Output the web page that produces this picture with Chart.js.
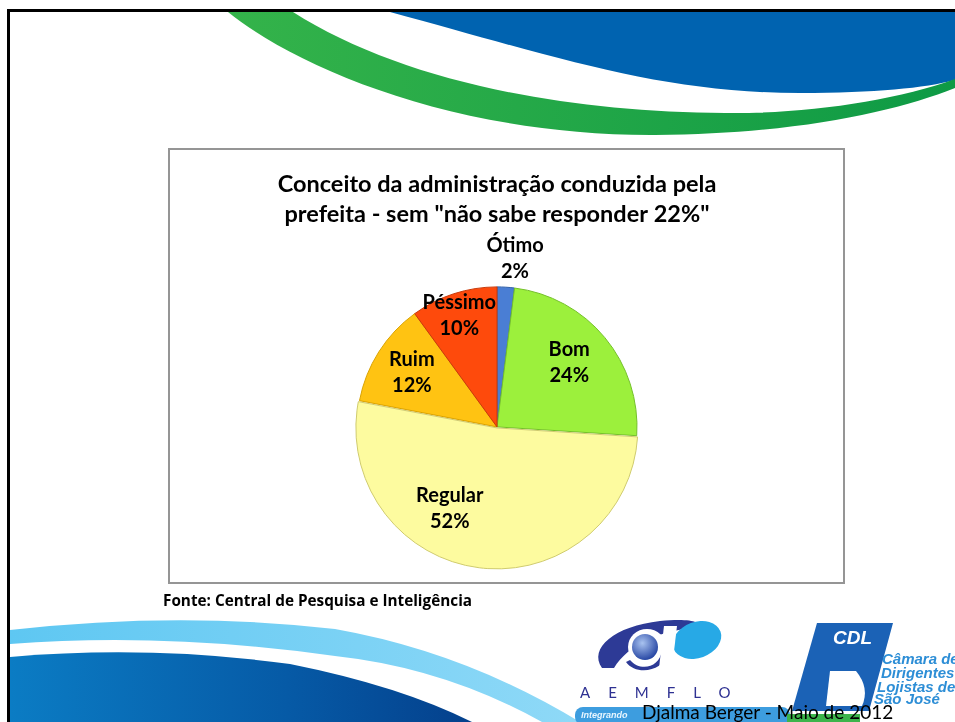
<!DOCTYPE html>
<html>
<head>
<meta charset="utf-8">
<script src="https://cdn.jsdelivr.net/npm/chart.js@4.4.1/dist/chart.umd.min.js"></script>
<style>
html, body { margin: 0; padding: 0; background: #fff; }
body { width: 955px; height: 722px; position: relative; overflow: hidden; font-family: Lato, "Open Sans", sans-serif; }
svg { position: absolute; left: 0; top: 0; }
#box { position: absolute; left: 168px; top: 148px; width: 673px; height: 432px; border: 2px solid #959595; background: #fff; }
#pie { position: absolute; left: 170px; top: 150px; }
</style>
</head>
<body>
<svg width="955" height="722">
	<defs>
		<linearGradient id="gTop" x1="0" x2="1" y1="0" y2="0">
			<stop offset="0" stop-color="#34b34a"/>
			<stop offset="1" stop-color="#0e9a45"/>
		</linearGradient>
		<linearGradient id="gLight" x1="0" x2="1" y1="0" y2="0">
			<stop offset="0" stop-color="#5ec7f2"/>
			<stop offset="1" stop-color="#8fd9f7"/>
		</linearGradient>
		<linearGradient id="gDark" x1="0" x2="1" y1="0" y2="0">
			<stop offset="0" stop-color="#0b7cc4"/>
			<stop offset="0.6" stop-color="#065aa6"/>
			<stop offset="1" stop-color="#04408c"/>
		</linearGradient>
	</defs>
	<!-- top swooshes -->
	<path d="M390,12 C560,58 660,93 800,93 C875,93 925,88 955,80 L955,12 Z" fill="#0063b0"/>
	<path d="M228,12 C300,70 460,136 655,135 C795,134 895,112 955,88 L955,79 C895,101 805,114 725,113 C560,112 400,80 293,12 Z" fill="url(#gTop)"/>
	<!-- bottom swooshes -->
	<path d="M10,630 Q180,611 335,629 Q465,652 580,722 L542,722 Q445,668 335,656 Q165,632 10,644 Z" fill="url(#gLight)"/>
	<path d="M10,657 Q150,645 290,664 Q400,686 472,722 L10,722 Z" fill="url(#gDark)"/>
	<!-- frame -->
	<rect x="7" y="9" width="948" height="3" fill="#000"/>
	<rect x="7" y="9" width="3" height="713" fill="#000"/>
</svg>
<div id="box"></div>
<canvas id="pie" width="673" height="500"></canvas>
<svg width="955" height="722">
	<defs>
		<radialGradient id="gBall" cx="0.4" cy="0.35" r="0.7">
			<stop offset="0" stop-color="#a9c3f0"/>
			<stop offset="1" stop-color="#1f3f9f"/>
		</radialGradient>
	</defs>
	<text x="163" y="606" font-family="Open Sans" font-weight="bold" font-size="15.3" fill="#000">Fonte: Central de Pesquisa e Inteligência</text>
	<!-- AEMFLO logo -->
	<path d="M602,668 C588,648 615,626 660,621 C690,618 704,622 696,628 C660,630 628,645 614,668 Z" fill="#2d3a96"/>
	<ellipse cx="697" cy="640" rx="25" ry="18" transform="rotate(-20 697 640)" fill="#27a9e6"/>
	<ellipse cx="647" cy="647" rx="19" ry="18" fill="#fff"/>
	<path d="M630,660 C640,672 660,668 662,650 L668,652 C664,672 636,676 626,662 Z" fill="#2d3a96"/>
	<circle cx="645" cy="647" r="13" fill="url(#gBall)"/>
	<polygon points="664,626 677,626 672,668 659,668" fill="#fff"/>
	<text x="580" y="698" font-family="Lato" font-size="15" letter-spacing="18" fill="#2e3192">AEMFLO</text>
	<rect x="575" y="707" width="215" height="18" rx="8" fill="#3d9ddf"/>
	<text x="581" y="718" font-family="Liberation Sans" font-style="italic" font-weight="bold" font-size="9" fill="#e8f6ff">Integrando</text>
	<rect x="787" y="714" width="73" height="10" fill="#3cb44b"/>
	<!-- CDL logo -->
	<polygon points="817,623 893,623 869,711 792,711" fill="#1b62b6"/>
	<path d="M830,671 L856,671 Q870,688 862,706 L826,706 Z" fill="#fff"/>
	<text x="833" y="644" font-family="Liberation Sans" font-style="italic" font-weight="bold" font-size="19" fill="#fff">CDL</text>
	<g font-family="Liberation Sans" font-style="italic" font-weight="bold" font-size="15" fill="#2d8ed6">
		<text x="882" y="664">Câmara de</text>
		<text x="881" y="678">Dirigentes</text>
		<text x="877" y="692">Lojistas de</text>
		<text x="874" y="704">São José</text>
	</g>
	<text x="642" y="719" font-family="Lato" font-size="19" fill="#000">Djalma Berger - Maio de 2012</text>
</svg>
<script>
// chart data
const categories = ['Ótimo', 'Bom', 'Regular', 'Ruim', 'Péssimo'];
const percentValues = [2, 24, 52, 12, 10];
const titleLines = ['Conceito da administração conduzida pela', 'prefeita - sem "não sabe responder 22%"'];

// slice styling
const sliceColors = ['#4a7ed4', '#9cf03c', '#fdfb9f', '#ffc312', '#fe4a0c'];
const sliceBorders = ['#2f5fa8', '#74c02a', '#cfcb6e', '#d9a200', '#c93a0a'];
const sliceOffsets = [0, 0, 4, 0, 0];

// label placement: degrees from slice middle, fraction of radius
const labelShift = [2.5, -2, 22.8, 0, -0.7];
const labelRadius = [1.21, 0.69, 0.675, 0.72, 0.84];

/**
 * Draw "name / value%" on every slice
 */
const sliceLabels = {
	id: 'sliceLabels',
	afterDatasetsDraw(chart) {
		const ctx = chart.ctx;
		const meta = chart.getDatasetMeta(0);
		ctx.save();
		ctx.font = 'bold 20px Lato';
		ctx.fillStyle = '#000';
		ctx.textAlign = 'center';
		ctx.textBaseline = 'middle';
		meta.data.forEach((arc, i) => {
			const p = arc.getProps(['x', 'y', 'startAngle', 'endAngle', 'outerRadius'], true);
			const mid = (p.startAngle + p.endAngle) / 2 + labelShift[i] * Math.PI / 180;
			const r = p.outerRadius * labelRadius[i];
			const x = p.x + Math.cos(mid) * r;
			const y = p.y + Math.sin(mid) * r;
			ctx.fillText(categories[i], x, y - 13);
			ctx.fillText(percentValues[i] + '%', x, y + 13);
		});
		ctx.restore();
	}
};

function initChart() {
	Chart.defaults.font.family = 'Lato';
	const ctx = document.getElementById('pie').getContext('2d');

	new Chart(ctx, {
		type: 'pie',
		data: {
			labels: categories,
			datasets: [{
				data: percentValues,
				backgroundColor: sliceColors,
				borderColor: sliceBorders,
				borderWidth: 1,
				offset: sliceOffsets
			}]
		},
		options: {
			responsive: false,
			animation: false,
			devicePixelRatio: 1,
			radius: 140,
			layout: {
				padding: { left: 0, right: 19, top: 0, bottom: 26 }
			},
			plugins: {
				legend: { display: false },
				tooltip: { enabled: false },
				title: {
					display: true,
					text: titleLines,
					color: '#000',
					font: { size: 23.5, weight: 'bold', lineHeight: 1.3 },
					padding: { top: 18.7, bottom: 0 }
				}
			}
		},
		plugins: [sliceLabels]
	});
}

document.fonts.load('bold 20px Lato').then(initChart, initChart);
</script>
</body>
</html>
